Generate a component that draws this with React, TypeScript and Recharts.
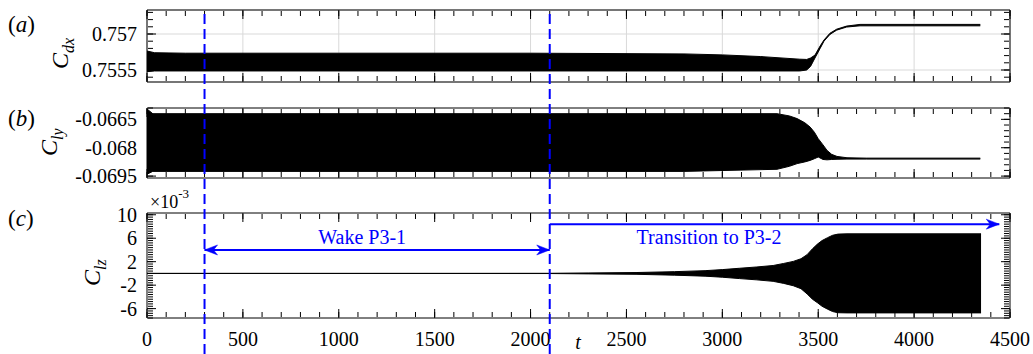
import React from 'react';
import {
  ComposedChart,
  Area,
  XAxis,
  YAxis,
  CartesianGrid,
  ReferenceLine,
  ReferenceDot,
} from 'recharts';

// ---------------- data ----------------
const tTicks = [0, 500, 1000, 1500, 2000, 2500, 3000, 3500, 4000, 4500];
const markerTimes = [300, 2100];

// panel (a) C_dx envelope
const tA = [0, 40, 200, 1000, 2000, 2800, 3000, 3200, 3404, 3440, 3460, 3483, 3510, 3530, 3561, 3596, 3648, 3718, 4000, 4345];
const cdxHi = [0.75629, 0.75622, 0.7562, 0.7562, 0.7562, 0.75617, 0.75613, 0.75606, 0.75595, 0.75594, 0.756, 0.75612, 0.7565, 0.75675, 0.75703, 0.7572, 0.75733, 0.7574, 0.7574, 0.7574];
const cdxLo = [0.75543, 0.75546, 0.75546, 0.75546, 0.75546, 0.75546, 0.75546, 0.75546, 0.75546, 0.7555, 0.75565, 0.756, 0.7564, 0.7567, 0.75698, 0.75716, 0.75729, 0.75734, 0.75734, 0.75734];
const cdxTicks = [0.7555, 0.757];

// panel (b) C_ly envelope
const tB = [0, 30, 100, 1000, 2000, 2800, 3285, 3350, 3390, 3430, 3458, 3480, 3500, 3525, 3546, 3570, 3598, 3650, 3750, 4345];
const clyHi = [-0.06595, -0.0662, -0.0662, -0.0662, -0.0662, -0.0662, -0.0662, -0.06632, -0.06646, -0.06668, -0.06691, -0.06718, -0.06752, -0.06785, -0.06814, -0.06835, -0.06846, -0.06853, -0.06855, -0.06855];
const clyLo = [-0.0694, -0.06925, -0.06925, -0.06925, -0.06925, -0.06925, -0.06914, -0.06898, -0.06884, -0.06875, -0.06867, -0.06858, -0.06849, -0.06862, -0.06864, -0.06862, -0.06861, -0.0686, -0.0686, -0.0686];
const clyTicks = [-0.0695, -0.068, -0.0665];

// panel (c) C_lz envelope (x 1e-3)
const tC = [0, 2100, 2300, 2550, 2750, 2910, 3000, 3090, 3180, 3265, 3320, 3370, 3410, 3442, 3470, 3496, 3520, 3549, 3575, 3603, 3650, 4349];
const clzHi = [0, 0.02, 0.08, 0.15, 0.3, 0.47, 0.65, 0.88, 1.1, 1.35, 1.7, 2.05, 2.5, 3.2, 4.2, 5.0, 5.6, 6.1, 6.5, 6.7, 6.75, 6.75];
const clzLo = [0, -0.02, -0.08, -0.15, -0.3, -0.47, -0.65, -0.88, -1.1, -1.35, -1.7, -2.1, -2.6, -3.5, -4.4, -5.0, -5.6, -6.1, -6.5, -6.7, -6.73, -6.73];
const clzTicks = [-6, -2, 2, 6, 10];

// annotations (panel c)
const wakeArrow = { from: 300, to: 2100, y: 4.0 };
const transArrow = { from: 2100, to: 4444, y: 8.4 };
const wakeText = { t: 893, y: 5.1, label: 'Wake P3-1' };
const transText = { t: 2553, y: 4.95, label: 'Transition to P3-2' };

// ---------------- layout ----------------
const W = 1033;
const H = 354;
const LEFT = 147;
const RIGHT = 23;
const AXIS_W = 60;
const MS = 1; // size of tick-only (mirrored) axes
const FONT = 'Liberation Serif, Times New Roman, Times, DejaVu Serif, serif';
const BLUE = '#0000ff';

function range(a: number, b: number, step: number) {
  const out: number[] = [];
  const n = Math.round((b - a) / step);
  for (let i = 0; i <= n; i++) out.push(+(a + i * step).toFixed(6));
  return out;
}
const tMinor = range(0, 4500, 100);

const tickStyle = { fontSize: 20, fontFamily: FONT, fill: '#000' };
const noTick = () => <g />;

type PanelProps = {
  t: number[];
  hi: number[];
  lo: number[];
  top: number;
  bottom: number;
  domain: [number, number];
  yTicks: number[];
  yMinor: number[];
  grid?: boolean;
  xLabels?: boolean;
  children?: React.ReactNode;
};

function Panel({ t, hi, lo, top, bottom, domain, yTicks, yMinor, grid, xLabels, children }: PanelProps) {
  const data = t.map((v, i) => ({ t: v, r: [lo[i], hi[i]] }));
  const labelH = 30;
  const mb = H - bottom - (xLabels ? labelH : 0);
  const xc = { type: 'number' as const, dataKey: 't', domain: [0, 4500], allowDataOverflow: true, interval: 0 as const, stroke: '#000' };
  const yc = { type: 'number' as const, domain, allowDataOverflow: true, interval: 0 as const, stroke: '#000' };
  return (
    <div style={{ position: 'absolute', left: 0, top: 0 }}>
      <ComposedChart width={W} height={H} data={data} margin={{ top, right: RIGHT, bottom: mb, left: LEFT - AXIS_W }}>
        <XAxis xAxisId="x" {...xc} orientation="bottom" mirror height={MS} ticks={tTicks} tickSize={9} tick={noTick} axisLine={false} />
        <XAxis xAxisId="xm" {...xc} orientation="bottom" mirror height={MS} ticks={tMinor} tickSize={5} tick={noTick} axisLine={false} />
        <XAxis xAxisId="xt" {...xc} orientation="top" mirror height={MS} ticks={tTicks} tickSize={9} tick={noTick} axisLine={false} />
        <XAxis xAxisId="xtm" {...xc} orientation="top" mirror height={MS} ticks={tMinor} tickSize={5} tick={noTick} axisLine={false} />
        {xLabels && (
          <XAxis xAxisId="xl" {...xc} orientation="bottom" height={labelH} ticks={tTicks} tickLine={false} axisLine={false} tickSize={0} tickMargin={14} tick={tickStyle} />
        )}
        <YAxis yAxisId="y" {...yc} orientation="left" width={AXIS_W} ticks={yTicks} tickLine={false} axisLine={false} tickSize={0} tickMargin={10} tick={tickStyle} />
        <YAxis yAxisId="yM" {...yc} orientation="left" mirror width={MS} ticks={yTicks} tickSize={9} tick={noTick} axisLine={false} />
        <YAxis yAxisId="ym" {...yc} orientation="left" mirror width={MS} ticks={yMinor} tickSize={5} tick={noTick} axisLine={false} />
        <YAxis yAxisId="yr" {...yc} orientation="right" mirror width={MS} ticks={yTicks} tickSize={9} tick={noTick} axisLine={false} />
        <YAxis yAxisId="yrm" {...yc} orientation="right" mirror width={MS} ticks={yMinor} tickSize={5} tick={noTick} axisLine={false} />
        {grid && <CartesianGrid xAxisId="x" yAxisId="y" stroke="#d9d9d9" />}
        <Area
          xAxisId="x"
          yAxisId="y"
          type="linear"
          dataKey="r"
          stroke="#000"
          strokeWidth={1}
          fill="#000"
          fillOpacity={1}
          dot={false}
          activeDot={false}
          isAnimationActive={false}
        />
        {/* plot frame */}
        <ReferenceLine xAxisId="x" yAxisId="y" x={0} stroke="#000" strokeWidth={1} />
        <ReferenceLine xAxisId="x" yAxisId="y" x={4500} stroke="#000" strokeWidth={1} />
        <ReferenceLine xAxisId="x" yAxisId="y" y={domain[0]} stroke="#000" strokeWidth={1} />
        <ReferenceLine xAxisId="x" yAxisId="y" y={domain[1]} stroke="#000" strokeWidth={1} />
        {children}
      </ComposedChart>
    </div>
  );
}

const arrowShape = (both: boolean) => (p: any) => {
  const { x1, y1, x2, y2 } = p;
  const L = 13;
  const HW = 5;
  const back = 4;
  const head = (tx: number, ty: number, dir: number) => {
    const bx = tx - dir * L;
    return (
      <path
        d={`M${tx},${ty} L${bx},${ty - HW} L${bx + dir * back},${ty} L${bx},${ty + HW} Z`}
        fill={BLUE}
        stroke={BLUE}
        strokeWidth={0.5}
      />
    );
  };
  return (
    <g>
      <line x1={x1} y1={y1} x2={x2} y2={y2} stroke={BLUE} strokeWidth={2} />
      {head(x2, y2, 1)}
      {both && head(x1, y1, -1)}
    </g>
  );
};

const textShape = (label: string) => (p: any) => (
  <text x={p.cx} y={p.cy} fill={BLUE} fontFamily={FONT} fontSize={20} textAnchor="start">
    {label}
  </text>
);

export default function App() {
  return (
    <div style={{ position: 'absolute', left: 0, top: 0, width: W, height: H, background: '#fff', fontFamily: FONT }}>
      <Panel t={tA} hi={cdxHi} lo={cdxLo} top={10} bottom={82} domain={[0.755, 0.758]} yTicks={cdxTicks} yMinor={range(0.7552, 0.7579, 0.0003)} grid />
      <Panel t={tB} hi={clyHi} lo={clyLo} top={108} bottom={178} domain={[-0.0696, -0.0659]} yTicks={clyTicks} yMinor={range(-0.0695, -0.0659, 0.0003)} />
      <Panel t={tC} hi={clzHi} lo={clzLo} top={213} bottom={318} domain={[-7.6, 10.3]} yTicks={clzTicks} yMinor={range(-7.6, 10.0, 0.4)} xLabels>
        <ReferenceLine
          xAxisId="x"
          yAxisId="y"
          segment={[{ x: wakeArrow.from, y: wakeArrow.y }, { x: wakeArrow.to, y: wakeArrow.y }]}
          shape={arrowShape(true)}
        />
        <ReferenceLine
          xAxisId="x"
          yAxisId="y"
          segment={[{ x: transArrow.from, y: transArrow.y }, { x: transArrow.to, y: transArrow.y }]}
          shape={arrowShape(false)}
        />
        <ReferenceDot xAxisId="x" yAxisId="y" x={wakeText.t} y={wakeText.y} shape={textShape(wakeText.label)} />
        <ReferenceDot xAxisId="x" yAxisId="y" x={transText.t} y={transText.y} shape={textShape(transText.label)} />
      </Panel>

      {/* dashed markers across all panels */}
      <div style={{ position: 'absolute', left: 0, top: 0 }}>
        <ComposedChart width={W} height={H} data={[{ t: 0 }, { t: 4500 }]} margin={{ top: 10, right: RIGHT, bottom: 0, left: LEFT }}>
          <XAxis xAxisId="o" type="number" dataKey="t" domain={[0, 4500]} allowDataOverflow hide />
          <YAxis yAxisId="o" type="number" domain={[0, 1]} allowDataOverflow hide />
          {markerTimes.map((m) => (
            <ReferenceLine key={m} xAxisId="o" yAxisId="o" x={m} stroke={BLUE} strokeWidth={2} strokeDasharray="10 5" />
          ))}
        </ComposedChart>
      </div>

      {/* text overlay */}
      <svg width={W} height={H} style={{ position: 'absolute', left: 0, top: 0, pointerEvents: 'none' }}>
        <g fontFamily={FONT} fill="#000">
          <text x={8} y={32} fontSize={23}>(<tspan fontStyle="italic">a</tspan>)</text>
          <text x={8} y={126} fontSize={23}>(<tspan fontStyle="italic">b</tspan>)</text>
          <text x={8} y={226} fontSize={23}>(<tspan fontStyle="italic">c</tspan>)</text>

          <text transform="translate(68,69) rotate(-90)" fontSize={24} fontStyle="italic">
            C<tspan fontSize={16} dy={6}>dx</tspan>
          </text>
          <text transform="translate(57,156) rotate(-90)" fontSize={24} fontStyle="italic">
            C<tspan fontSize={16} dy={6}>ly</tspan>
          </text>
          <text transform="translate(100,286) rotate(-90)" fontSize={24} fontStyle="italic">
            C<tspan fontSize={16} dy={6}>lz</tspan>
          </text>

          <text x={150} y={208} fontSize={18}>
            ×10<tspan fontSize={13} dy={-10}>-3</tspan>
          </text>

          <text x={578} y={349} fontSize={20} fontStyle="italic" textAnchor="middle">t</text>
        </g>
      </svg>
    </div>
  );
}
